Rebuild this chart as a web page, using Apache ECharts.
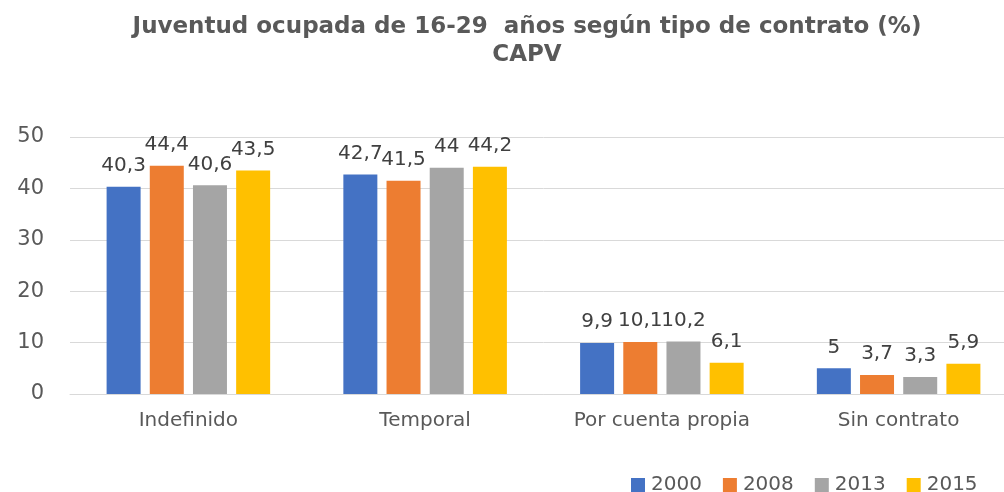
<!DOCTYPE html>
<html>
<head>
<meta charset="utf-8">
<script src="https://cdn.jsdelivr.net/npm/echarts@6/dist/echarts.min.js"></script>
<style>
html,body{margin:0;padding:0;background:#fff;overflow:hidden;}
#c{width:1030px;height:492px;}
</style>
</head>
<body>
<div id="c"></div>
<script>
const categories = ['Indefinido', 'Temporal', 'Por cuenta propia', 'Sin contrato'];
const years = ['2000', '2008', '2013', '2015'];
const v2000 = [40.3, 42.7, 9.9, 5];
const v2008 = [44.4, 41.5, 10.1, 3.7];
const v2013 = [40.6, 44, 10.2, 3.3];
const v2015 = [43.5, 44.2, 6.1, 5.9];
const colors = ['#4472C4', '#ED7D31', '#A5A5A5', '#FFC000'];
const seriesValues = [v2000, v2008, v2013, v2015];

const FONT = '"DejaVu Sans", sans-serif';
const chart = echarts.init(document.getElementById('c'));
chart.setOption({
  animation: false,
  title: {
    text: 'Juventud ocupada de 16-29  años según tipo de contrato (%)\nCAPV',
    left: 522,
    textAlign: 'center',
    top: 8,
    textStyle: {
      fontFamily: FONT,
      fontWeight: 'bold',
      fontSize: 23,
      lineHeight: 28,
      color: '#595959'
    }
  },
  legend: {
    data: years,
    left: 626,
    top: 470,
    itemWidth: 14,
    itemHeight: 14,
    itemGap: 21,
    icon: 'rect',
    textStyle: { fontFamily: FONT, fontSize: 20, color: '#595959', padding: [0, 0, 0, 1] }
  },
  grid: { left: 70, width: 947, top: 137, height: 257, containLabel: false },
  xAxis: {
    type: 'category',
    data: categories,
    axisLine: { lineStyle: { color: '#d9d9d9', width: 1 } },
    axisTick: { show: false },
    axisLabel: { interval: 0, fontFamily: FONT, fontSize: 20, color: '#595959', margin: 17 }
  },
  yAxis: {
    type: 'value',
    min: 0,
    max: 50,
    interval: 10,
    axisLine: { show: false },
    axisTick: { show: false },
    splitLine: { lineStyle: { color: '#d9d9d9', width: 1 } },
    axisLabel: { fontFamily: FONT, fontSize: 21, color: '#595959', margin: 26 }
  },
  series: years.map((y, i) => ({
    name: y,
    type: 'bar',
    data: seriesValues[i],
    barWidth: 34,
    barGap: '27%',
    itemStyle: { color: colors[i] },
    label: {
      show: true,
      position: 'top',
      distance: 11,
      fontFamily: FONT,
      fontSize: 20,
      color: '#404040',
      formatter: p => String(p.value).replace('.', ',')
    }
  }))
});
</script>
</body>
</html>
